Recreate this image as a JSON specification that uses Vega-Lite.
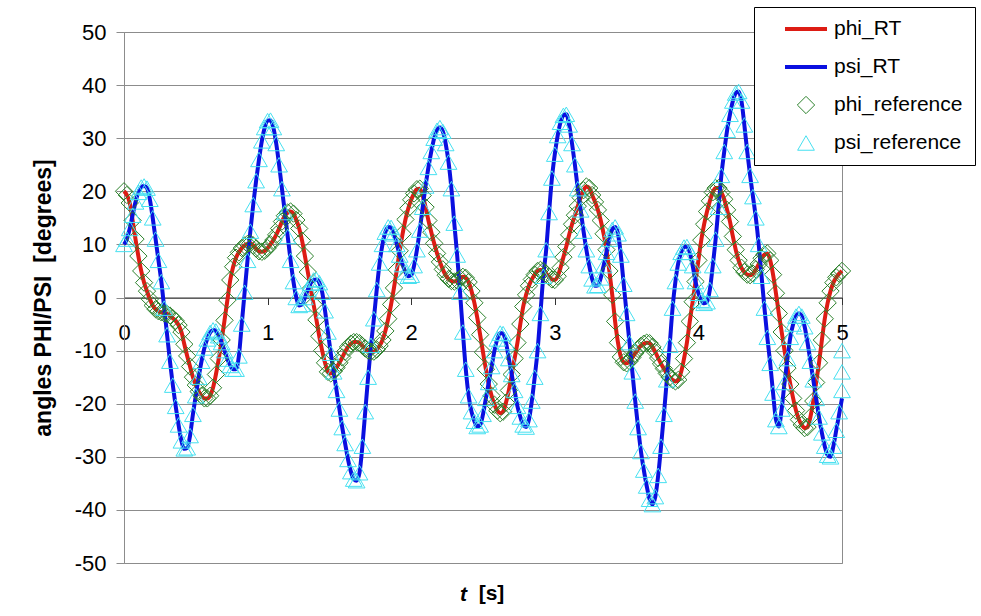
{
  "$schema": "https://vega.github.io/schema/vega-lite/v6.json",
  "width": 718,
  "height": 531,
  "autosize": "none",
  "padding": {"left": 124, "top": 32, "right": 139, "bottom": 53},
  "background": "white",
  "config": {
    "font": "Liberation Sans",
    "view": {"stroke": "#8c8c8c", "strokeWidth": 1},
    "axis": {"labelColor": "black", "titleColor": "black", "labelFont": "Liberation Sans", "titleFont": "Liberation Sans"},
    "legend": {"orient": "none", "legendX": 630, "legendY": -25, "title": null, "fillColor": "white", "strokeColor": "black", "padding": 12, "labelFontSize": 21, "labelColor": "black", "labelFont": "Liberation Sans", "symbolOffset": 17, "labelOffset": 5, "clipHeight": 20, "rowPadding": 17}
  },
  "data": {"values": [
{"t":0,"phi_RT":20,"psi_RT":10,"phi_reference":20,"psi_reference":10},
{"t":0.02,"phi_RT":19.3,"psi_RT":11,"phi_reference":19.3,"psi_reference":11},
{"t":0.04,"phi_RT":17.8,"psi_RT":13,"phi_reference":17.8,"psi_reference":13},
{"t":0.06,"phi_RT":14.5,"psi_RT":15.5,"phi_reference":14.5,"psi_reference":15.5},
{"t":0.08,"phi_RT":11,"psi_RT":18,"phi_reference":11,"psi_reference":18},
{"t":0.1,"phi_RT":7.8,"psi_RT":19.8,"phi_reference":7.8,"psi_reference":19.8},
{"t":0.12,"phi_RT":5,"psi_RT":20.8,"phi_reference":5,"psi_reference":20.8},
{"t":0.14,"phi_RT":2.8,"psi_RT":21,"phi_reference":2.8,"psi_reference":21},
{"t":0.16,"phi_RT":1.2,"psi_RT":20.6,"phi_reference":1.2,"psi_reference":20.6},
{"t":0.18,"phi_RT":-0.3,"psi_RT":18.5,"phi_reference":-0.3,"psi_reference":18.5},
{"t":0.2,"phi_RT":-1.5,"psi_RT":15,"phi_reference":-1.5,"psi_reference":15},
{"t":0.22,"phi_RT":-2.2,"psi_RT":11,"phi_reference":-2.2,"psi_reference":11},
{"t":0.24,"phi_RT":-2.6,"psi_RT":7,"phi_reference":-2.6,"psi_reference":7},
{"t":0.26,"phi_RT":-2.8,"psi_RT":3,"phi_reference":-2.8,"psi_reference":3},
{"t":0.28,"phi_RT":-3,"psi_RT":-2,"phi_reference":-3,"psi_reference":-2},
{"t":0.3,"phi_RT":-3.1,"psi_RT":-7,"phi_reference":-3.1,"psi_reference":-7},
{"t":0.32,"phi_RT":-3.4,"psi_RT":-12,"phi_reference":-3.4,"psi_reference":-12},
{"t":0.34,"phi_RT":-3.9,"psi_RT":-16.5,"phi_reference":-3.9,"psi_reference":-16.5},
{"t":0.36,"phi_RT":-4.4,"psi_RT":-20.5,"phi_reference":-4.4,"psi_reference":-20.5},
{"t":0.38,"phi_RT":-5.2,"psi_RT":-24,"phi_reference":-5.2,"psi_reference":-24},
{"t":0.4,"phi_RT":-6.5,"psi_RT":-27,"phi_reference":-6.5,"psi_reference":-27},
{"t":0.42,"phi_RT":-8.8,"psi_RT":-28.5,"phi_reference":-8.8,"psi_reference":-28.5},
{"t":0.44,"phi_RT":-11,"psi_RT":-28.3,"phi_reference":-11,"psi_reference":-28.3},
{"t":0.46,"phi_RT":-13,"psi_RT":-26,"phi_reference":-13,"psi_reference":-26},
{"t":0.48,"phi_RT":-15,"psi_RT":-22,"phi_reference":-15,"psi_reference":-22},
{"t":0.5,"phi_RT":-16.5,"psi_RT":-18.5,"phi_reference":-16.5,"psi_reference":-18.5},
{"t":0.52,"phi_RT":-17.7,"psi_RT":-15,"phi_reference":-17.7,"psi_reference":-15},
{"t":0.54,"phi_RT":-18.5,"psi_RT":-12,"phi_reference":-18.5,"psi_reference":-12},
{"t":0.56,"phi_RT":-19,"psi_RT":-9.5,"phi_reference":-19,"psi_reference":-9.5},
{"t":0.58,"phi_RT":-19,"psi_RT":-7.8,"phi_reference":-19,"psi_reference":-7.8},
{"t":0.6,"phi_RT":-18.5,"psi_RT":-6.6,"phi_reference":-18.5,"psi_reference":-6.6},
{"t":0.62,"phi_RT":-17,"psi_RT":-6.1,"phi_reference":-17,"psi_reference":-6.1},
{"t":0.64,"phi_RT":-14.5,"psi_RT":-6.3,"phi_reference":-14.5,"psi_reference":-6.3},
{"t":0.66,"phi_RT":-11.5,"psi_RT":-7.2,"phi_reference":-11.5,"psi_reference":-7.2},
{"t":0.68,"phi_RT":-8,"psi_RT":-8.5,"phi_reference":-8,"psi_reference":-8.5},
{"t":0.7,"phi_RT":-4.3,"psi_RT":-10,"phi_reference":-4.3,"psi_reference":-10},
{"t":0.72,"phi_RT":-0.5,"psi_RT":-11.6,"phi_reference":-0.5,"psi_reference":-11.6},
{"t":0.74,"phi_RT":3.3,"psi_RT":-12.8,"phi_reference":3.3,"psi_reference":-12.8},
{"t":0.76,"phi_RT":5.8,"psi_RT":-13.5,"phi_reference":5.8,"psi_reference":-13.5},
{"t":0.78,"phi_RT":7.5,"psi_RT":-13.5,"phi_reference":7.5,"psi_reference":-13.5},
{"t":0.8,"phi_RT":8.5,"psi_RT":-11,"phi_reference":8.5,"psi_reference":-11},
{"t":0.82,"phi_RT":9.3,"psi_RT":-5,"phi_reference":9.3,"psi_reference":-5},
{"t":0.84,"phi_RT":9.8,"psi_RT":1,"phi_reference":9.8,"psi_reference":1},
{"t":0.86,"phi_RT":10.1,"psi_RT":7,"phi_reference":10.1,"psi_reference":7},
{"t":0.88,"phi_RT":10.2,"psi_RT":12.5,"phi_reference":10.2,"psi_reference":12.5},
{"t":0.9,"phi_RT":9.8,"psi_RT":17.5,"phi_reference":9.8,"psi_reference":17.5},
{"t":0.92,"phi_RT":9.2,"psi_RT":22,"phi_reference":9.2,"psi_reference":22},
{"t":0.94,"phi_RT":8.7,"psi_RT":26,"phi_reference":8.7,"psi_reference":26},
{"t":0.96,"phi_RT":8.6,"psi_RT":29.5,"phi_reference":8.6,"psi_reference":29.5},
{"t":0.98,"phi_RT":8.8,"psi_RT":32,"phi_reference":8.8,"psi_reference":32},
{"t":1,"phi_RT":9.3,"psi_RT":33.3,"phi_reference":9.3,"psi_reference":33.3},
{"t":1.02,"phi_RT":10,"psi_RT":33.4,"phi_reference":10,"psi_reference":33.4},
{"t":1.04,"phi_RT":10.8,"psi_RT":32,"phi_reference":10.8,"psi_reference":32},
{"t":1.06,"phi_RT":11.8,"psi_RT":29,"phi_reference":11.8,"psi_reference":29},
{"t":1.08,"phi_RT":13,"psi_RT":25,"phi_reference":13,"psi_reference":25},
{"t":1.1,"phi_RT":14.3,"psi_RT":20.5,"phi_reference":14.3,"psi_reference":20.5},
{"t":1.12,"phi_RT":15.4,"psi_RT":16,"phi_reference":15.4,"psi_reference":16},
{"t":1.14,"phi_RT":16,"psi_RT":11.5,"phi_reference":16,"psi_reference":11.5},
{"t":1.16,"phi_RT":16.2,"psi_RT":7,"phi_reference":16.2,"psi_reference":7},
{"t":1.18,"phi_RT":15.8,"psi_RT":3,"phi_reference":15.8,"psi_reference":3},
{"t":1.2,"phi_RT":14.6,"psi_RT":0,"phi_reference":14.6,"psi_reference":0},
{"t":1.22,"phi_RT":13,"psi_RT":-1.5,"phi_reference":13,"psi_reference":-1.5},
{"t":1.24,"phi_RT":10.7,"psi_RT":-1.3,"phi_reference":10.7,"psi_reference":-1.3},
{"t":1.26,"phi_RT":7.8,"psi_RT":0,"phi_reference":7.8,"psi_reference":0},
{"t":1.28,"phi_RT":4.8,"psi_RT":1.5,"phi_reference":4.8,"psi_reference":1.5},
{"t":1.3,"phi_RT":1.7,"psi_RT":2.7,"phi_reference":1.7,"psi_reference":2.7},
{"t":1.32,"phi_RT":-1.3,"psi_RT":3.3,"phi_reference":-1.3,"psi_reference":3.3},
{"t":1.34,"phi_RT":-4.2,"psi_RT":3.4,"phi_reference":-4.2,"psi_reference":3.4},
{"t":1.36,"phi_RT":-7.3,"psi_RT":2.8,"phi_reference":-7.3,"psi_reference":2.8},
{"t":1.38,"phi_RT":-10,"psi_RT":1,"phi_reference":-10,"psi_reference":1},
{"t":1.4,"phi_RT":-12.3,"psi_RT":-2.5,"phi_reference":-12.3,"psi_reference":-2.5},
{"t":1.42,"phi_RT":-14,"psi_RT":-6.5,"phi_reference":-14,"psi_reference":-6.5},
{"t":1.44,"phi_RT":-14.3,"psi_RT":-10.5,"phi_reference":-14.3,"psi_reference":-10.5},
{"t":1.46,"phi_RT":-13.9,"psi_RT":-14,"phi_reference":-13.9,"psi_reference":-14},
{"t":1.48,"phi_RT":-13.2,"psi_RT":-17.5,"phi_reference":-13.2,"psi_reference":-17.5},
{"t":1.5,"phi_RT":-12.3,"psi_RT":-21,"phi_reference":-12.3,"psi_reference":-21},
{"t":1.52,"phi_RT":-11.3,"psi_RT":-24.5,"phi_reference":-11.3,"psi_reference":-24.5},
{"t":1.54,"phi_RT":-10.2,"psi_RT":-27.5,"phi_reference":-10.2,"psi_reference":-27.5},
{"t":1.56,"phi_RT":-9.3,"psi_RT":-30.5,"phi_reference":-9.3,"psi_reference":-30.5},
{"t":1.58,"phi_RT":-8.7,"psi_RT":-32.8,"phi_reference":-8.7,"psi_reference":-32.8},
{"t":1.6,"phi_RT":-8.4,"psi_RT":-34.2,"phi_reference":-8.4,"psi_reference":-34.2},
{"t":1.62,"phi_RT":-8.4,"psi_RT":-34.5,"phi_reference":-8.4,"psi_reference":-34.5},
{"t":1.64,"phi_RT":-8.6,"psi_RT":-33,"phi_reference":-8.6,"psi_reference":-33},
{"t":1.66,"phi_RT":-9.1,"psi_RT":-28,"phi_reference":-9.1,"psi_reference":-28},
{"t":1.68,"phi_RT":-9.6,"psi_RT":-21.5,"phi_reference":-9.6,"psi_reference":-21.5},
{"t":1.7,"phi_RT":-10,"psi_RT":-15,"phi_reference":-10,"psi_reference":-15},
{"t":1.72,"phi_RT":-10.2,"psi_RT":-9,"phi_reference":-10.2,"psi_reference":-9},
{"t":1.74,"phi_RT":-10.2,"psi_RT":-4,"phi_reference":-10.2,"psi_reference":-4},
{"t":1.76,"phi_RT":-9.8,"psi_RT":1.5,"phi_reference":-9.8,"psi_reference":1.5},
{"t":1.78,"phi_RT":-9.1,"psi_RT":6.5,"phi_reference":-9.1,"psi_reference":6.5},
{"t":1.8,"phi_RT":-8,"psi_RT":10,"phi_reference":-8,"psi_reference":10},
{"t":1.82,"phi_RT":-6.3,"psi_RT":12.3,"phi_reference":-6.3,"psi_reference":12.3},
{"t":1.84,"phi_RT":-4,"psi_RT":13.3,"phi_reference":-4,"psi_reference":13.3},
{"t":1.86,"phi_RT":-1.3,"psi_RT":13.2,"phi_reference":-1.3,"psi_reference":13.2},
{"t":1.88,"phi_RT":1.8,"psi_RT":12,"phi_reference":1.8,"psi_reference":12},
{"t":1.9,"phi_RT":5.2,"psi_RT":10,"phi_reference":5.2,"psi_reference":10},
{"t":1.92,"phi_RT":8.8,"psi_RT":8,"phi_reference":8.8,"psi_reference":8},
{"t":1.94,"phi_RT":12,"psi_RT":6.2,"phi_reference":12,"psi_reference":6.2},
{"t":1.96,"phi_RT":14.7,"psi_RT":4.8,"phi_reference":14.7,"psi_reference":4.8},
{"t":1.98,"phi_RT":16.8,"psi_RT":4,"phi_reference":16.8,"psi_reference":4},
{"t":2,"phi_RT":18.4,"psi_RT":4.2,"phi_reference":18.4,"psi_reference":4.2},
{"t":2.02,"phi_RT":19.6,"psi_RT":6,"phi_reference":19.6,"psi_reference":6},
{"t":2.04,"phi_RT":20.4,"psi_RT":9,"phi_reference":20.4,"psi_reference":9},
{"t":2.06,"phi_RT":20.5,"psi_RT":12.7,"phi_reference":20.5,"psi_reference":12.7},
{"t":2.08,"phi_RT":19.2,"psi_RT":17,"phi_reference":19.2,"psi_reference":17},
{"t":2.1,"phi_RT":17,"psi_RT":21,"phi_reference":17,"psi_reference":21},
{"t":2.12,"phi_RT":14.5,"psi_RT":24.5,"phi_reference":14.5,"psi_reference":24.5},
{"t":2.14,"phi_RT":12.3,"psi_RT":27.5,"phi_reference":12.3,"psi_reference":27.5},
{"t":2.16,"phi_RT":10.2,"psi_RT":30,"phi_reference":10.2,"psi_reference":30},
{"t":2.18,"phi_RT":8.3,"psi_RT":31.5,"phi_reference":8.3,"psi_reference":31.5},
{"t":2.2,"phi_RT":6.7,"psi_RT":32,"phi_reference":6.7,"psi_reference":32},
{"t":2.22,"phi_RT":5.3,"psi_RT":31.3,"phi_reference":5.3,"psi_reference":31.3},
{"t":2.24,"phi_RT":4.2,"psi_RT":29,"phi_reference":4.2,"psi_reference":29},
{"t":2.26,"phi_RT":3.5,"psi_RT":25.5,"phi_reference":3.5,"psi_reference":25.5},
{"t":2.28,"phi_RT":3.1,"psi_RT":20.5,"phi_reference":3.1,"psi_reference":20.5},
{"t":2.3,"phi_RT":3,"psi_RT":14,"phi_reference":3,"psi_reference":14},
{"t":2.32,"phi_RT":3.2,"psi_RT":8,"phi_reference":3.2,"psi_reference":8},
{"t":2.34,"phi_RT":3.6,"psi_RT":1,"phi_reference":3.6,"psi_reference":1},
{"t":2.36,"phi_RT":3.9,"psi_RT":-6.5,"phi_reference":3.9,"psi_reference":-6.5},
{"t":2.38,"phi_RT":3.7,"psi_RT":-13.5,"phi_reference":3.7,"psi_reference":-13.5},
{"t":2.4,"phi_RT":2.9,"psi_RT":-18.5,"phi_reference":2.9,"psi_reference":-18.5},
{"t":2.42,"phi_RT":1.2,"psi_RT":-21.5,"phi_reference":1.2,"psi_reference":-21.5},
{"t":2.44,"phi_RT":-1,"psi_RT":-23.3,"phi_reference":-1,"psi_reference":-23.3},
{"t":2.46,"phi_RT":-3.8,"psi_RT":-24.3,"phi_reference":-3.8,"psi_reference":-24.3},
{"t":2.48,"phi_RT":-7,"psi_RT":-24,"phi_reference":-7,"psi_reference":-24},
{"t":2.5,"phi_RT":-10.3,"psi_RT":-22,"phi_reference":-10.3,"psi_reference":-22},
{"t":2.52,"phi_RT":-13.5,"psi_RT":-19,"phi_reference":-13.5,"psi_reference":-19},
{"t":2.54,"phi_RT":-16.3,"psi_RT":-16,"phi_reference":-16.3,"psi_reference":-16},
{"t":2.56,"phi_RT":-18.5,"psi_RT":-13,"phi_reference":-18.5,"psi_reference":-13},
{"t":2.58,"phi_RT":-20.2,"psi_RT":-10,"phi_reference":-20.2,"psi_reference":-10},
{"t":2.6,"phi_RT":-21.3,"psi_RT":-7.8,"phi_reference":-21.3,"psi_reference":-7.8},
{"t":2.62,"phi_RT":-21.8,"psi_RT":-6.7,"phi_reference":-21.8,"psi_reference":-6.7},
{"t":2.64,"phi_RT":-21.5,"psi_RT":-6.8,"phi_reference":-21.5,"psi_reference":-6.8},
{"t":2.66,"phi_RT":-19.8,"psi_RT":-8.5,"phi_reference":-19.8,"psi_reference":-8.5},
{"t":2.68,"phi_RT":-17.5,"psi_RT":-11.5,"phi_reference":-17.5,"psi_reference":-11.5},
{"t":2.7,"phi_RT":-14.5,"psi_RT":-14.5,"phi_reference":-14.5,"psi_reference":-14.5},
{"t":2.72,"phi_RT":-11.5,"psi_RT":-17.5,"phi_reference":-11.5,"psi_reference":-17.5},
{"t":2.74,"phi_RT":-8.5,"psi_RT":-20.5,"phi_reference":-8.5,"psi_reference":-20.5},
{"t":2.76,"phi_RT":-5,"psi_RT":-22.5,"phi_reference":-5,"psi_reference":-22.5},
{"t":2.78,"phi_RT":-1.7,"psi_RT":-24,"phi_reference":-1.7,"psi_reference":-24},
{"t":2.8,"phi_RT":0.5,"psi_RT":-24.4,"phi_reference":0.5,"psi_reference":-24.4},
{"t":2.82,"phi_RT":2.2,"psi_RT":-23,"phi_reference":2.2,"psi_reference":-23},
{"t":2.84,"phi_RT":3.4,"psi_RT":-19.5,"phi_reference":3.4,"psi_reference":-19.5},
{"t":2.86,"phi_RT":4.3,"psi_RT":-15,"phi_reference":4.3,"psi_reference":-15},
{"t":2.88,"phi_RT":5,"psi_RT":-10,"phi_reference":5,"psi_reference":-10},
{"t":2.9,"phi_RT":5.2,"psi_RT":-3,"phi_reference":5.2,"psi_reference":-3},
{"t":2.92,"phi_RT":5,"psi_RT":4,"phi_reference":5,"psi_reference":4},
{"t":2.94,"phi_RT":4.5,"psi_RT":9,"phi_reference":4.5,"psi_reference":9},
{"t":2.96,"phi_RT":3.9,"psi_RT":16,"phi_reference":3.9,"psi_reference":16},
{"t":2.98,"phi_RT":3.4,"psi_RT":22.5,"phi_reference":3.4,"psi_reference":22.5},
{"t":3,"phi_RT":3.3,"psi_RT":27,"phi_reference":3.3,"psi_reference":27},
{"t":3.02,"phi_RT":4,"psi_RT":30.5,"phi_reference":4,"psi_reference":30.5},
{"t":3.04,"phi_RT":5.6,"psi_RT":33,"phi_reference":5.6,"psi_reference":33},
{"t":3.06,"phi_RT":7.6,"psi_RT":34.3,"phi_reference":7.6,"psi_reference":34.3},
{"t":3.08,"phi_RT":9.6,"psi_RT":34.5,"phi_reference":9.6,"psi_reference":34.5},
{"t":3.1,"phi_RT":11.8,"psi_RT":32.5,"phi_reference":11.8,"psi_reference":32.5},
{"t":3.12,"phi_RT":13.8,"psi_RT":29,"phi_reference":13.8,"psi_reference":29},
{"t":3.14,"phi_RT":15.5,"psi_RT":25,"phi_reference":15.5,"psi_reference":25},
{"t":3.16,"phi_RT":17.2,"psi_RT":20.5,"phi_reference":17.2,"psi_reference":20.5},
{"t":3.18,"phi_RT":18.8,"psi_RT":16.5,"phi_reference":18.8,"psi_reference":16.5},
{"t":3.2,"phi_RT":20.2,"psi_RT":12.5,"phi_reference":20.2,"psi_reference":12.5},
{"t":3.22,"phi_RT":20.9,"psi_RT":9,"phi_reference":20.9,"psi_reference":9},
{"t":3.24,"phi_RT":20.6,"psi_RT":6,"phi_reference":20.6,"psi_reference":6},
{"t":3.26,"phi_RT":19.3,"psi_RT":3.5,"phi_reference":19.3,"psi_reference":3.5},
{"t":3.28,"phi_RT":18,"psi_RT":2.2,"phi_reference":18,"psi_reference":2.2},
{"t":3.3,"phi_RT":16.5,"psi_RT":2.3,"phi_reference":16.5,"psi_reference":2.3},
{"t":3.32,"phi_RT":14.5,"psi_RT":3.7,"phi_reference":14.5,"psi_reference":3.7},
{"t":3.34,"phi_RT":12,"psi_RT":6,"phi_reference":12,"psi_reference":6},
{"t":3.36,"phi_RT":9,"psi_RT":8.5,"phi_reference":9,"psi_reference":8.5},
{"t":3.38,"phi_RT":5,"psi_RT":11,"phi_reference":5,"psi_reference":11},
{"t":3.4,"phi_RT":0.5,"psi_RT":12.8,"phi_reference":0.5,"psi_reference":12.8},
{"t":3.42,"phi_RT":-4.5,"psi_RT":13.3,"phi_reference":-4.5,"psi_reference":13.3},
{"t":3.44,"phi_RT":-8.5,"psi_RT":12,"phi_reference":-8.5,"psi_reference":12},
{"t":3.46,"phi_RT":-11.2,"psi_RT":8,"phi_reference":-11.2,"psi_reference":8},
{"t":3.48,"phi_RT":-12.2,"psi_RT":2.5,"phi_reference":-12.2,"psi_reference":2.5},
{"t":3.5,"phi_RT":-12.4,"psi_RT":-3,"phi_reference":-12.4,"psi_reference":-3},
{"t":3.52,"phi_RT":-12,"psi_RT":-8.5,"phi_reference":-12,"psi_reference":-8.5},
{"t":3.54,"phi_RT":-11.3,"psi_RT":-14,"phi_reference":-11.3,"psi_reference":-14},
{"t":3.56,"phi_RT":-10.5,"psi_RT":-19.5,"phi_reference":-10.5,"psi_reference":-19.5},
{"t":3.58,"phi_RT":-9.7,"psi_RT":-24.5,"phi_reference":-9.7,"psi_reference":-24.5},
{"t":3.6,"phi_RT":-9.1,"psi_RT":-29,"phi_reference":-9.1,"psi_reference":-29},
{"t":3.62,"phi_RT":-8.7,"psi_RT":-32.5,"phi_reference":-8.7,"psi_reference":-32.5},
{"t":3.64,"phi_RT":-8.5,"psi_RT":-35.5,"phi_reference":-8.5,"psi_reference":-35.5},
{"t":3.66,"phi_RT":-8.6,"psi_RT":-38,"phi_reference":-8.6,"psi_reference":-38},
{"t":3.68,"phi_RT":-9.3,"psi_RT":-39,"phi_reference":-9.3,"psi_reference":-39},
{"t":3.7,"phi_RT":-10.3,"psi_RT":-37.5,"phi_reference":-10.3,"psi_reference":-37.5},
{"t":3.72,"phi_RT":-11.4,"psi_RT":-33.5,"phi_reference":-11.4,"psi_reference":-33.5},
{"t":3.74,"phi_RT":-12.5,"psi_RT":-28,"phi_reference":-12.5,"psi_reference":-28},
{"t":3.76,"phi_RT":-13.4,"psi_RT":-22,"phi_reference":-13.4,"psi_reference":-22},
{"t":3.78,"phi_RT":-14.3,"psi_RT":-15.5,"phi_reference":-14.3,"psi_reference":-15.5},
{"t":3.8,"phi_RT":-15,"psi_RT":-9,"phi_reference":-15,"psi_reference":-9},
{"t":3.82,"phi_RT":-15.5,"psi_RT":-2,"phi_reference":-15.5,"psi_reference":-2},
{"t":3.84,"phi_RT":-15.8,"psi_RT":3,"phi_reference":-15.8,"psi_reference":3},
{"t":3.86,"phi_RT":-15.5,"psi_RT":6.5,"phi_reference":-15.5,"psi_reference":6.5},
{"t":3.88,"phi_RT":-14,"psi_RT":8.5,"phi_reference":-14,"psi_reference":8.5},
{"t":3.9,"phi_RT":-11.5,"psi_RT":9.5,"phi_reference":-11.5,"psi_reference":9.5},
{"t":3.92,"phi_RT":-8.5,"psi_RT":9.6,"phi_reference":-8.5,"psi_reference":9.6},
{"t":3.94,"phi_RT":-4.5,"psi_RT":8.5,"phi_reference":-4.5,"psi_reference":8.5},
{"t":3.96,"phi_RT":-0.8,"psi_RT":6,"phi_reference":-0.8,"psi_reference":6},
{"t":3.98,"phi_RT":3,"psi_RT":3,"phi_reference":3,"psi_reference":3},
{"t":4,"phi_RT":7,"psi_RT":0.8,"phi_reference":7,"psi_reference":0.8},
{"t":4.02,"phi_RT":10.8,"psi_RT":-0.5,"phi_reference":10.8,"psi_reference":-0.5},
{"t":4.04,"phi_RT":13.8,"psi_RT":-1.1,"phi_reference":13.8,"psi_reference":-1.1},
{"t":4.06,"phi_RT":16.2,"psi_RT":-0.8,"phi_reference":16.2,"psi_reference":-0.8},
{"t":4.08,"phi_RT":18.2,"psi_RT":1.5,"phi_reference":18.2,"psi_reference":1.5},
{"t":4.1,"phi_RT":19.8,"psi_RT":6,"phi_reference":19.8,"psi_reference":6},
{"t":4.12,"phi_RT":20.6,"psi_RT":11,"phi_reference":20.6,"psi_reference":11},
{"t":4.14,"phi_RT":20.6,"psi_RT":17,"phi_reference":20.6,"psi_reference":17},
{"t":4.16,"phi_RT":19.8,"psi_RT":23,"phi_reference":19.8,"psi_reference":23},
{"t":4.18,"phi_RT":18.5,"psi_RT":27.5,"phi_reference":18.5,"psi_reference":27.5},
{"t":4.2,"phi_RT":16.5,"psi_RT":31.5,"phi_reference":16.5,"psi_reference":31.5},
{"t":4.22,"phi_RT":14.3,"psi_RT":34.5,"phi_reference":14.3,"psi_reference":34.5},
{"t":4.24,"phi_RT":11.5,"psi_RT":37,"phi_reference":11.5,"psi_reference":37},
{"t":4.26,"phi_RT":9,"psi_RT":38.5,"phi_reference":9,"psi_reference":38.5},
{"t":4.28,"phi_RT":7,"psi_RT":38.8,"phi_reference":7,"psi_reference":38.8},
{"t":4.3,"phi_RT":5.6,"psi_RT":37,"phi_reference":5.6,"psi_reference":37},
{"t":4.32,"phi_RT":4.8,"psi_RT":32.5,"phi_reference":4.8,"psi_reference":32.5},
{"t":4.34,"phi_RT":4.3,"psi_RT":27.5,"phi_reference":4.3,"psi_reference":27.5},
{"t":4.36,"phi_RT":4.2,"psi_RT":23,"phi_reference":4.2,"psi_reference":23},
{"t":4.38,"phi_RT":4.5,"psi_RT":19,"phi_reference":4.5,"psi_reference":19},
{"t":4.4,"phi_RT":5.3,"psi_RT":15,"phi_reference":5.3,"psi_reference":15},
{"t":4.42,"phi_RT":6.3,"psi_RT":10,"phi_reference":6.3,"psi_reference":10},
{"t":4.44,"phi_RT":7.4,"psi_RT":4,"phi_reference":7.4,"psi_reference":4},
{"t":4.46,"phi_RT":8.1,"psi_RT":-2,"phi_reference":8.1,"psi_reference":-2},
{"t":4.48,"phi_RT":8.3,"psi_RT":-7.5,"phi_reference":8.3,"psi_reference":-7.5},
{"t":4.5,"phi_RT":7,"psi_RT":-12.4,"phi_reference":7,"psi_reference":-12.4},
{"t":4.52,"phi_RT":4.3,"psi_RT":-18,"phi_reference":4.3,"psi_reference":-18},
{"t":4.54,"phi_RT":0.8,"psi_RT":-23,"phi_reference":0.8,"psi_reference":-23},
{"t":4.56,"phi_RT":-3,"psi_RT":-24.3,"phi_reference":-3,"psi_reference":-24.3},
{"t":4.58,"phi_RT":-6.5,"psi_RT":-21,"phi_reference":-6.5,"psi_reference":-21},
{"t":4.6,"phi_RT":-10,"psi_RT":-16,"phi_reference":-10,"psi_reference":-16},
{"t":4.62,"phi_RT":-13.3,"psi_RT":-11.5,"phi_reference":-13.3,"psi_reference":-11.5},
{"t":4.64,"phi_RT":-16.3,"psi_RT":-7.5,"phi_reference":-16.3,"psi_reference":-7.5},
{"t":4.66,"phi_RT":-19,"psi_RT":-5,"phi_reference":-19,"psi_reference":-5},
{"t":4.68,"phi_RT":-21.3,"psi_RT":-3.5,"phi_reference":-21.3,"psi_reference":-3.5},
{"t":4.7,"phi_RT":-23,"psi_RT":-3,"phi_reference":-23,"psi_reference":-3},
{"t":4.72,"phi_RT":-24,"psi_RT":-3.5,"phi_reference":-24,"psi_reference":-3.5},
{"t":4.74,"phi_RT":-24.6,"psi_RT":-5.5,"phi_reference":-24.6,"psi_reference":-5.5},
{"t":4.76,"phi_RT":-24.4,"psi_RT":-8.5,"phi_reference":-24.4,"psi_reference":-8.5},
{"t":4.78,"phi_RT":-22.5,"psi_RT":-12,"phi_reference":-22.5,"psi_reference":-12},
{"t":4.8,"phi_RT":-19.5,"psi_RT":-15.5,"phi_reference":-19.5,"psi_reference":-15.5},
{"t":4.82,"phi_RT":-16,"psi_RT":-19,"phi_reference":-16,"psi_reference":-19},
{"t":4.84,"phi_RT":-12.3,"psi_RT":-22.5,"phi_reference":-12.3,"psi_reference":-22.5},
{"t":4.86,"phi_RT":-8,"psi_RT":-25.5,"phi_reference":-8,"psi_reference":-25.5},
{"t":4.88,"phi_RT":-4,"psi_RT":-28,"phi_reference":-4,"psi_reference":-28},
{"t":4.9,"phi_RT":-1,"psi_RT":-29.7,"phi_reference":-1,"psi_reference":-29.7},
{"t":4.92,"phi_RT":1.2,"psi_RT":-30,"phi_reference":1.2,"psi_reference":-30},
{"t":4.94,"phi_RT":2.8,"psi_RT":-28,"phi_reference":2.8,"psi_reference":-28},
{"t":4.96,"phi_RT":3.8,"psi_RT":-25,"phi_reference":3.8,"psi_reference":-25},
{"t":4.98,"phi_RT":4.5,"psi_RT":-22,"phi_reference":4.5,"psi_reference":-21.5},
{"t":5,"phi_RT":5,"psi_RT":-19,"phi_reference":5,"psi_reference":-17.5},
{"t":5.02,"psi_reference":-14},
{"t":5.04,"psi_reference":-10}
  ]},
  "transform": [
    {"fold": ["phi_RT", "psi_RT", "phi_reference", "psi_reference"], "as": ["series", "value"]},
    {"filter": "isValid(datum.value)"}
  ],
  "encoding": {
    "y": {
      "field": "value", "type": "quantitative",
      "scale": {"domain": [-50, 50], "nice": false, "zero": false},
      "axis": {"values": [-50, -40, -30, -20, -10, 0, 10, 20, 30, 40, 50], "labelExpr": "toString(datum.value)", "title": "angles PHI/PSI\u00a0\u00a0[degrees]", "titleFontSize": 23, "titleFontWeight": "bold", "titlePadding": 19, "labelFontSize": 22, "labelPadding": 10, "tickSize": 8, "tickColor": "#8c8c8c", "domainColor": "#8c8c8c", "gridColor": "#8c8c8c", "grid": true}
    },
    "color": {
      "field": "series", "type": "nominal",
      "scale": {"domain": ["phi_RT", "psi_RT", "phi_reference", "psi_reference"], "range": ["#dd1c14", "#0a10e0", "#2c822c", "#45e0f0"]}
    },
    "strokeWidth": {
      "field": "series", "type": "nominal",
      "scale": {"type": "ordinal", "domain": ["phi_RT", "psi_RT", "phi_reference", "psi_reference"], "range": [4, 4, 1, 1]}
    }
  },
  "layer": [
    {
      "transform": [{"filter": {"field": "series", "oneOf": ["phi_RT", "psi_RT"]}}],
      "mark": {"type": "line", "interpolate": "monotone"},
      "encoding": {
        "x": {
          "field": "t", "type": "quantitative",
          "scale": {"domain": [0, 5], "nice": false, "zero": false, "clamp": true},
          "axis": {"values": [0, 1, 2, 3, 4, 5], "offset": -265.5, "grid": false, "domainColor": "#333333", "tickColor": "#333333", "tickSize": 7, "labelFontSize": 22, "labelPadding": 18, "labelFlush": false, "title": "[s]", "titleFontSize": 21, "titleFontWeight": "bold", "titleX": 367, "titleY": 296, "titleBaseline": "middle", "titleAlign": "center"}
        }
      }
    },
    {
      "transform": [{"filter": {"field": "series", "oneOf": ["phi_reference", "psi_reference"]}}],
      "mark": {"type": "point", "filled": false, "opacity": 1},
      "encoding": {
        "x": {
          "field": "t", "type": "quantitative",
          "scale": {"domain": [0, 5], "nice": false, "zero": false, "clamp": true},
          "axis": {"orient": "bottom", "domain": false, "ticks": false, "labels": false, "grid": false, "title": "t", "titleFontSize": 21, "titleFontWeight": "bold", "titleFontStyle": "italic", "titleX": 339, "titleY": 31, "titleBaseline": "middle", "titleAlign": "center"}
        },
        "shape": {
          "field": "series", "type": "nominal",
          "scale": {"domain": ["phi_RT", "psi_RT", "phi_reference", "psi_reference"], "range": ["stroke", "stroke", "diamond", "triangle-up"]}
        },
        "size": {
          "field": "series", "type": "nominal",
          "scale": {"type": "ordinal", "domain": ["phi_RT", "psi_RT", "phi_reference", "psi_reference"], "range": [1764, 1764, 300, 280]}
        },
        "order": {"field": "series", "sort": "ascending"}
      }
    }
  ],
  "resolve": {"axis": {"x": "independent"}}
}
